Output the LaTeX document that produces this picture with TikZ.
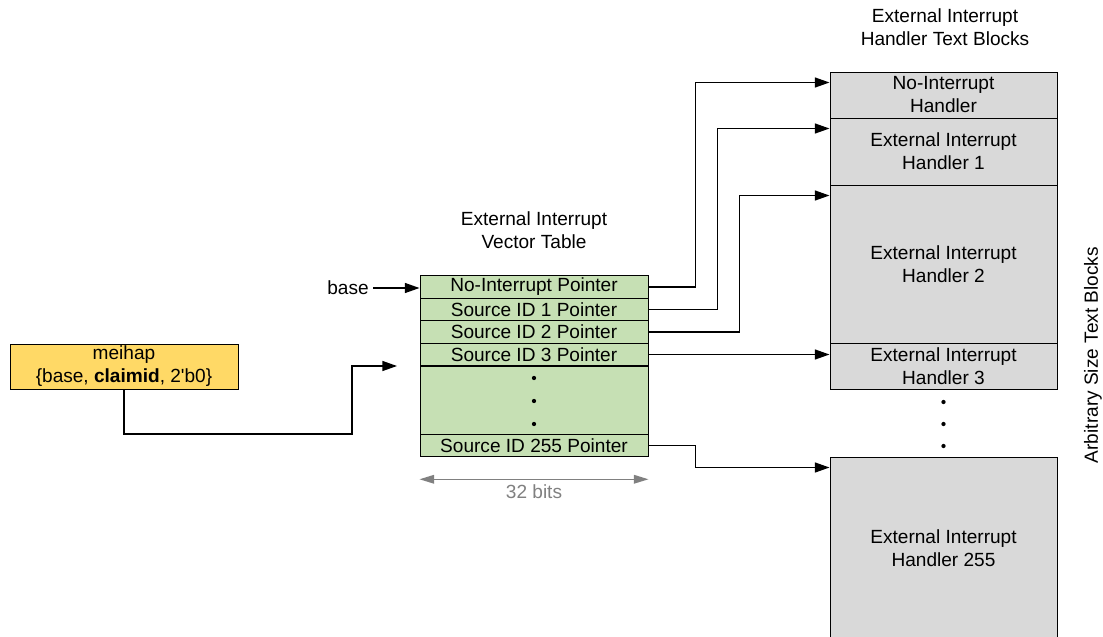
\documentclass[tikz,border=0pt]{standalone}
\usepackage{fontspec}
\setmainfont{Liberation Sans}
\usetikzlibrary{arrows.meta}
\definecolor{ptrgreen}{RGB}{198,224,180}
\definecolor{hdlgray}{RGB}{217,217,217}
\definecolor{regyellow}{RGB}{255,217,102}
\begin{document}
\begin{tikzpicture}[
  x=0.75pt,y=-0.75pt,
  font=\fontsize{14.3}{17.25}\selectfont,
  ptr/.style={draw, line width=0.75pt, fill=ptrgreen, inner sep=0pt, minimum width=171pt, minimum height=#1},
  ptr/.default=16.9pt,
  hdl/.style={draw, line width=0.75pt, fill=hdlgray, align=center, inner sep=0pt, minimum width=170.25pt, minimum height=#1},
  arrow/.style={-{Triangle[length=11pt,width=7.5pt]}, line width=1pt},
  bits/.style={{Triangle[length=11pt,width=6.5pt]}-{Triangle[length=11pt,width=6.5pt]}, line width=1pt, draw=gray}
]
\useasboundingbox (0,0) rectangle (1103,636);

% vector table
\node[align=center] (vtt) at (534,230) {External Interrupt\\Vector Table};
\node[ptr] (p0) at (534,287) {No-Interrupt Pointer};
\node[ptr] (p1) at (534,309.5) {Source ID 1 Pointer};
\node[ptr] (p2) at (534,332) {Source ID 2 Pointer};
\node[ptr] (p3) at (534,354.5) {Source ID 3 Pointer};
\node[ptr=51pt] (pdots) at (534,400) {};
\node[ptr] (p255) at (534,445.5) {Source ID 255 Pointer};
\foreach \y in {378,401,424} \fill (534,\y) circle (1.6pt);

\draw[bits] ([yshift=-16.5pt]p255.south west) -- node[text=gray, yshift=-9.5pt] (bitsl) {32 bits} ([yshift=-16.5pt]p255.south east);

% handler text blocks
\node[align=center] (htt) at (945,27.5) {External Interrupt\\Handler Text Blocks};
\node[hdl=34.5pt] (h0) at (943.5,95) {No-Interrupt\\Handler};
\node[hdl=50.25pt] (h1) at (943.5,151.5) {External Interrupt\\Handler 1};
\node[hdl=118.5pt] (h2) at (943.5,264) {External Interrupt\\Handler 2};
\node[hdl=34.5pt] (h3) at (943.5,366) {External Interrupt\\Handler 3};
\node[hdl=137.25pt] (h255) at (943.5,548.5) {External Interrupt\\Handler 255};
\foreach \y in {402,424,446} \fill (943.5,\y) circle (1.6pt);
\node[rotate=90] (asz) at (1093,355) {Arbitrary Size Text Blocks};

% meihap register
\node[draw, line width=0.75pt, fill=regyellow, align=center, inner sep=0pt, minimum width=171pt, minimum height=33.75pt] (mhap) at (124,366.5) {meihap\\\{base, \textbf{claimid}, 2\textquotesingle b0\}};
\coordinate (bend) at (352,434);
\coordinate (vtin) at (397,366);
\draw[arrow] (mhap.south) |- (bend) |- (vtin);

\node (basel) at (348,288) {base};
\draw[arrow] (basel.east) -- (basel.east -| p0.west);

% pointers to handlers
\draw[arrow] (p0.east) -- ++(47,0) |- ([yshift=-8.25pt]h0.north west);
\draw[arrow] (p1.east) -- ++(69,0) |- ([yshift=-8.25pt]h1.north west);
\draw[arrow] (p2.east) -- ++(91,0) |- ([yshift=-8.25pt]h2.north west);
\draw[arrow] (p3.east) -- (p3.east -| h3.west);
\draw[arrow] (p255.east) -- ++(47,0) |- ([yshift=-8.25pt]h255.north west);
\end{tikzpicture}
\end{document}
